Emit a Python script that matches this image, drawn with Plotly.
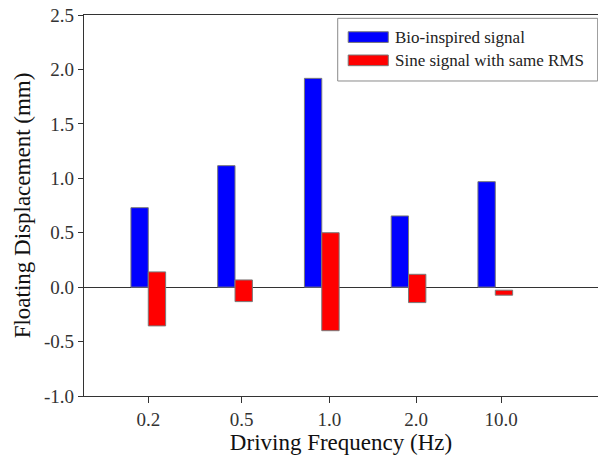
import plotly.graph_objects as go

categories = ["0.2", "0.5", "1.0", "2.0", "10.0"]
bio_values = [0.73, 1.116, 1.918, 0.654, 0.969]
sine_top = [0.14, 0.066, 0.50, 0.118, -0.028]
sine_bottom = [-0.356, -0.133, -0.40, -0.142, -0.074]
tick_pos = [0, 1.077, 2.087, 3.086, 4.066]
y_ticks = [-1.0, -0.5, 0.0, 0.5, 1.0, 1.5, 2.0, 2.5]

x_idx = list(range(len(categories)))
sine_height = [t - b for t, b in zip(sine_top, sine_bottom)]

font_family = "Liberation Serif"
edge = dict(color="#7a7a7a", width=1)

fig = go.Figure()
fig.add_trace(go.Bar(x=x_idx, y=bio_values, name="Bio-inspired signal",
                     marker=dict(color="#0000FF", line=edge), offsetgroup="a"))
fig.add_trace(go.Bar(x=x_idx, y=sine_height, base=sine_bottom,
                     name="Sine signal with same RMS",
                     marker=dict(color="#FF0000", line=edge), offsetgroup="b"))

fig.update_layout(
    width=598, height=455,
    margin=dict(l=84, r=0, t=15, b=59),
    paper_bgcolor="white", plot_bgcolor="white",
    barmode="group", bargap=0.6, bargroupgap=0,
    showlegend=False,
    font=dict(family=font_family, color="#222222"),
)
fig.update_xaxes(
    range=[-0.741, 5.184], tickmode="array", tickvals=tick_pos, ticktext=categories,
    showgrid=False, zeroline=False, showline=True, linecolor="#333333", linewidth=1.3,
    mirror=True, ticks="outside", ticklen=6, tickcolor="#333333",
    tickfont=dict(size=19, family=font_family, color="#333333"),
    title=dict(text="Driving Frequency (Hz)", font=dict(size=23, family=font_family, color="#111111"),
               standoff=0),
)
fig.update_yaxes(
    range=[-1.0, 2.5], tickmode="array", tickvals=y_ticks,
    ticktext=[f"{v:.1f}" for v in y_ticks],
    showgrid=False, zeroline=True, zerolinecolor="#333333", zerolinewidth=1.3,
    showline=True, linecolor="#333333", linewidth=1.3,
    ticks="outside", ticklen=5, tickcolor="#333333",
    tickfont=dict(size=19, family=font_family, color="#333333"),
    title=dict(text="Floating Displacement (mm)", font=dict(size=23, family=font_family, color="#111111"),
               standoff=6),
)

# Legend drawn manually (wide swatches like the reference)
fig.add_shape(type="rect", xref="paper", yref="paper", x0=0.4936, x1=0.9994, y0=0.8268, y1=0.9913,
              line=dict(color="#8a8a8a", width=1), fillcolor="white", layer="above")
legend_items = [("Bio-inspired signal", "#0000FF", 0.928, 0.956, 0.942),
                ("Sine signal with same RMS", "#FF0000", 0.867, 0.895, 0.881)]
for text, col, y0, y1, yc in legend_items:
    fig.add_shape(type="rect", xref="paper", yref="paper", x0=0.514, x1=0.592, y0=y0, y1=y1,
                  line=dict(color="#7a7a7a", width=1), fillcolor=col, layer="above")
    fig.add_annotation(text=text, xref="paper", yref="paper", x=0.604, y=yc,
                       xanchor="left", yanchor="middle", showarrow=False, borderpad=0,
                       font=dict(size=17, family=font_family, color="#222222"))

fig.write_html("out.html", config={"displayModeBar": False},
               post_script="document.body.style.margin='0';")
